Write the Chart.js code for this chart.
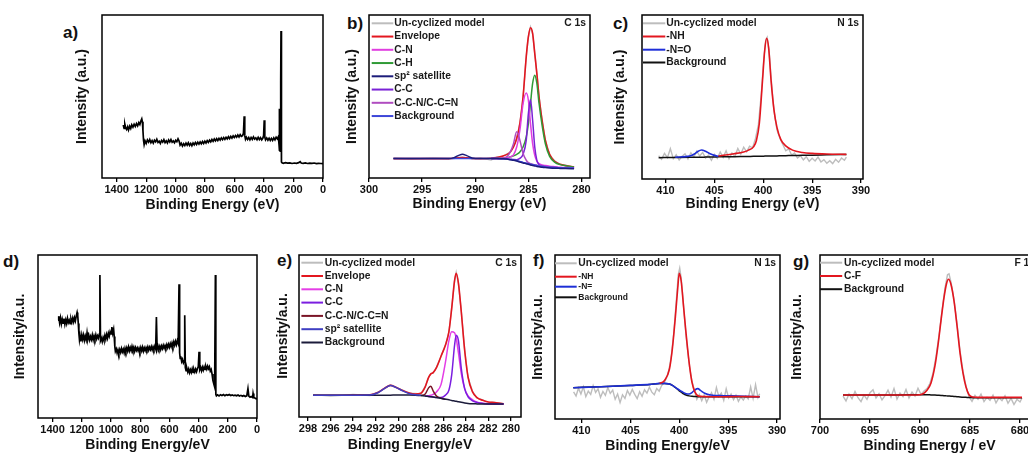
<!DOCTYPE html>
<html>
<head>
<meta charset="utf-8">
<title>XPS spectra</title>
<script src="https://cdn.jsdelivr.net/npm/chart.js@4.4.1/dist/chart.umd.min.js"></script>
<style>
  html, body { margin: 0; padding: 0; background: #fff; overflow: hidden; }
  body { width: 1028px; height: 456px; position: relative; font-family: "Liberation Sans", Arial, sans-serif; }
  canvas { position: absolute; }
  .tag { position: absolute; font-weight: bold; font-size: 17px; line-height: 1; color: #111; }
</style>
</head>
<body>
<div class="tag" style="left:63px;top:24px">a)</div>
<div class="tag" style="left:347px;top:15px">b)</div>
<div class="tag" style="left:613px;top:15px">c)</div>
<div class="tag" style="left:3px;top:253px">d)</div>
<div class="tag" style="left:277px;top:252px">e)</div>
<div class="tag" style="left:533px;top:252px">f)</div>
<div class="tag" style="left:793px;top:253px">g)</div>

<canvas id="chartA"></canvas>
<canvas id="chartB"></canvas>
<canvas id="chartC"></canvas>
<canvas id="chartD"></canvas>
<canvas id="chartE"></canvas>
<canvas id="chartF"></canvas>
<canvas id="chartG"></canvas>

<script>
// ---- tick labels ----
const surveyTicks = [1400, 1200, 1000, 800, 600, 400, 200, 0];
const c1sTicksB = [300, 295, 290, 285, 280];
const n1sTicks = [410, 405, 400, 395, 390];
const c1sTicksE = [298, 296, 294, 292, 290, 288, 286, 284, 282, 280];
const f1sTicks = [700, 695, 690, 685, 680];

// ---- a) survey, un-cyclized model ----
const aEnergy = [
  1356, 1350, 1345, 1340, 1333, 1326, 1320, 1312, 1305, 1298,
  1290, 1282, 1274, 1266, 1258, 1250, 1243, 1236, 1230, 1226,
  1222, 1218, 1214, 1208, 1200, 1192, 1184, 1176, 1168, 1160,
  1152, 1144, 1136, 1128, 1120, 1112, 1104, 1096, 1088, 1080,
  1072, 1064, 1056, 1048, 1040, 1032, 1024, 1016, 1008, 1000,
  992, 984, 976, 970, 962, 954, 946, 938, 930, 922,
  914, 906, 898, 890, 882, 874, 866, 858, 850, 842,
  834, 826, 818, 810, 802, 794, 786, 778, 770, 762,
  754, 746, 738, 730, 722, 714, 706, 698, 690, 682,
  674, 666, 658, 650, 642, 634, 626, 618, 610, 602,
  594, 586, 578, 570, 562, 554, 546, 540, 535, 531,
  526, 520, 512, 504, 496, 488, 480, 472, 464, 456,
  448, 440, 432, 424, 416, 408, 403, 399, 395, 390,
  382, 374, 366, 358, 350, 342, 334, 326, 318, 310,
  303, 298, 296.5, 295, 290, 287, 285, 283, 281, 278,
  270, 255, 240, 225, 210, 195, 180, 165, 155, 148,
  135, 120, 105, 90, 75, 60, 45, 30, 15, 0
];
const aCounts = [
  32.5, 30.5, 33.0, 31.0, 29.8, 31.5, 29.5, 31.8, 30.4, 32.6,
  31.2, 33.0, 31.6, 33.4, 32.0, 34.0, 32.8, 35.0, 36.3, 34.5,
  29.0, 23.0, 20.5, 22.8, 21.2, 23.4, 22.0, 23.6, 21.6, 22.9,
  21.4, 23.2, 22.2, 23.8, 21.8, 22.6, 21.2, 23.0, 22.0, 23.5,
  21.7, 22.8, 21.5, 23.3, 22.1, 23.6, 21.9, 22.7, 21.6, 23.1,
  22.3, 24.0, 22.5, 20.2, 21.3, 19.6, 21.0, 19.9, 21.4, 20.1,
  21.6, 20.0, 21.2, 19.8, 21.5, 20.4, 21.8, 20.6, 22.0, 20.8,
  22.1, 21.0, 22.4, 21.2, 22.6, 21.5, 22.9, 21.9, 23.2, 22.2,
  23.6, 22.5, 23.9, 22.8, 24.1, 23.0, 24.3, 23.2, 24.6, 23.5,
  24.8, 23.7, 25.0, 24.0, 25.3, 24.2, 25.5, 24.5, 25.8, 24.8,
  26.0, 25.0, 26.4, 25.2, 26.6, 25.6, 26.0, 27.5, 37.9, 26.0,
  23.8, 25.0, 23.6, 24.8, 23.4, 24.9, 23.7, 25.2, 23.9, 24.6,
  23.5, 24.9, 23.6, 24.7, 23.4, 24.5, 26.0, 35.4, 25.0, 23.4,
  24.6, 23.2, 24.4, 23.0, 24.3, 23.1, 24.6, 23.4, 25.0, 24.0,
  25.3, 20.0, 42.5, 17.0, 16.5, 60.0, 90.2, 40.0, 9.8, 9.3,
  9.0, 9.4, 9.1, 9.3, 8.9, 9.2, 9.0, 9.4, 10.0, 9.2,
  9.0, 9.3, 8.9, 9.1, 9.0, 9.2, 8.8, 9.0, 8.9, 8.8
];

// ---- b) C 1s, un-cyclized model ----
const bEnergy = [
  297.7, 296, 294, 292.5, 292, 291.6, 291.2, 290.8, 290.3, 289.5,
  288.5, 288, 287.5, 287, 286.7, 286.4, 286.1, 285.8, 285.5, 285.2,
  285.0, 284.8, 284.6, 284.4, 284.2, 284.0, 283.7, 283.4, 283.0, 282.5,
  282, 281.5, 280.7
];
const bRaw = [
  12.1, 11.7, 12.2, 11.8, 12.0, 12.6, 12.8, 12.3, 11.8, 12.2,
  11.0, 12.8, 13.0, 14.8, 15.8, 19.3, 24.0, 33.8, 49.5, 74.8,
  86.4, 92.6, 88.4, 76.8, 63.6, 50.4, 34.6, 23.4, 14.2, 10.3,
  8.2, 7.8, 6.6
];
const bEnvelope = [
  11.9, 11.9, 11.9, 11.9, 12.1, 12.4, 12.6, 12.4, 12.0, 11.9,
  12.1, 12.5, 13.3, 14.5, 16.0, 19.0, 24.2, 33.4, 49.8, 74.4,
  86.7, 92.2, 88.7, 76.4, 64.0, 50.0, 35.0, 23.0, 14.5, 10.0,
  8.4, 7.6, 6.8
];
const bCN = [
  null, null, null, null, null, null, null, null, null, null,
  11.9, 11.9, 12.1, 12.4, 13.0, 14.2, 19.0, 29.3, 45.7, 52.2,
  47.7, 33.4, 21.1, 13.9, 10.4, 8.8, 8.0, 7.6, 7.2, 6.9,
  6.6, 6.4, 6.2
];
const bCH = [
  null, null, null, null, null, null, null, null, null, null,
  11.9, 12.0, 12.2, 12.5, 13.0, 13.6, 14.5, 16.0, 19.0, 25.2,
  33.4, 45.7, 58.0, 63.1, 58.0, 46.0, 32.0, 21.0, 13.3, 9.6,
  8.2, 7.5, 6.7
];
const bSatellite = [
  11.9, 11.9, 11.9, 11.9, 12.5, 13.7, 14.6, 13.7, 12.3, 11.9,
  11.9, 11.9, 11.8, 11.6, 11.2, 10.9, 10.4, 9.8, 9.2, 8.8,
  8.4, 8.0, 7.7, 7.4, 7.1, 6.9, 6.6, 6.4, 6.2, 6.0,
  5.9, 5.8, 5.7
];
const bCC = [
  null, null, null, null, null, null, null, null, null, null,
  11.9, 11.9, 11.8, 11.7, 11.5, 11.3, 11.2, 12.0, 14.5, 23.2,
  39.5, 48.1, 35.4, 19.0, 10.8, 8.2, 7.4, 7.0, 6.7, 6.5,
  6.3, 6.2, 6.1
];
const bCCN = [
  null, null, null, null, null, null, null, null, null, null,
  11.9, 11.9, 12.3, 13.2, 16.0, 21.1, 28.3, 23.2, 15.0, 10.9,
  9.4, 8.8, 8.4, 8.1, 7.8, 7.5, 7.2, 6.9, 6.6, 6.4,
  6.3, 6.2, 6.1
];
const bBackground = [
  11.9, 11.9, 11.9, 11.9, 11.9, 11.9, 11.9, 11.9, 11.9, 11.9,
  11.9, 11.9, 11.8, 11.7, 11.4, 11.1, 10.7, 10.2, 9.6, 9.2,
  8.8, 8.5, 8.2, 8.0, 7.7, 7.4, 7.1, 6.8, 6.6, 6.4,
  6.3, 6.2, 6.1
];

// ---- c) N 1s, un-cyclized model ----
const cEnergy = [
  410.7, 409, 407.5, 407, 406.7, 406.3, 405.9, 405.5, 405, 404.6,
  403, 402, 401.5, 401, 400.7, 400.4, 400.1, 399.85, 399.65, 399.45,
  399.2, 398.9, 398.6, 398.2, 397.7, 397, 396, 395, 393.5, 391.5
];
const cNH = [
  null, null, null, null, null, null, null, null, null, 14.0,
  15.4, 16.5, 17.6, 19.6, 23.5, 34.0, 58.0, 78.5, 85.8, 80.0,
  60.0, 42.0, 31.5, 24.0, 20.2, 17.6, 16.2, 15.6, 15.2, 15.0
];
const cNO = [
  null, 13.3, 14.0, 15.4, 16.8, 17.7, 16.9, 15.6, 14.4, 13.8,
  null, null, null, null, null, null, null, null, null, null,
  null, null, null, null, null, null, null, null, null, null
];
const cBackground = [
  13.0, 13.1, 13.2, 13.25, 13.3, 13.3, 13.35, 13.4, 13.45, 13.5,
  13.6, 13.7, 13.75, 13.8, 13.85, 13.9, 13.9, 13.95, 14.0, 14.0,
  14.05, 14.1, 14.1, 14.2, 14.25, 14.3, 14.45, 14.55, 14.75, 15.0
];
const cRawEnergy = [
  410.7, 410.4, 410.1, 409.8, 409.5, 409.2, 408.9, 408.6, 408.3, 408.0,
  407.7, 407.4, 407.1, 406.8, 406.5, 406.2, 405.9, 405.6, 405.3, 405.0,
  404.7, 404.4, 404.1, 403.8, 403.5, 403.2, 402.9, 402.6, 402.3, 402.0,
  401.7, 401.4, 401.1, 400.8, 400.5, 400.2, 399.95, 399.75, 399.6, 399.4,
  399.15, 398.9, 398.6, 398.3, 398.0, 397.7, 397.4, 397.1, 396.8, 396.5,
  396.2, 395.9, 395.6, 395.3, 395.0, 394.7, 394.4, 394.1, 393.8, 393.5,
  393.2, 392.9, 392.6, 392.3, 392.0, 391.7, 391.5
];
const cRaw = [
  14.2, 12.0, 15.6, 13.0, 18.5, 12.4, 14.8, 11.6, 13.9, 15.4,
  12.2, 16.0, 13.5, 17.0, 14.0, 16.2, 12.8, 14.6, 11.4, 15.0,
  12.6, 16.4, 13.2, 17.2, 12.4, 15.8, 13.8, 18.6, 15.2, 19.4,
  16.6, 20.0, 19.0, 24.6, 33.0, 52.0, 73.0, 84.5, 86.4, 78.0,
  58.0, 41.5, 30.0, 24.8, 21.0, 17.2, 18.4, 14.6, 15.8, 12.8,
  14.2, 11.6, 13.6, 10.8, 12.6, 11.0, 13.4, 10.4, 11.8, 9.6,
  11.2, 9.4, 12.0, 10.2, 12.8, 11.4, 13.4
];

// ---- d) survey, second sample ----
const dEnergy = [
  1363, 1358, 1352, 1346, 1340, 1334, 1328, 1322, 1316, 1310,
  1304, 1298, 1292, 1286, 1280, 1274, 1268, 1262, 1256, 1250,
  1244, 1238, 1232, 1228, 1224, 1220, 1216, 1212, 1206, 1200,
  1194, 1188, 1182, 1176, 1170, 1164, 1158, 1152, 1146, 1140,
  1134, 1128, 1122, 1116, 1110, 1104, 1098, 1092, 1086, 1080,
  1076, 1072, 1066, 1060, 1054, 1048, 1042, 1036, 1030, 1024,
  1018, 1012, 1006, 1000, 994, 988, 982, 978, 974, 970,
  964, 958, 952, 946, 940, 934, 928, 922, 916, 910,
  904, 898, 892, 886, 880, 874, 868, 862, 856, 850,
  844, 838, 832, 826, 820, 814, 808, 802, 796, 790,
  784, 778, 772, 766, 760, 754, 748, 742, 736, 730,
  724, 718, 712, 706, 700, 694, 689, 684, 678, 672,
  666, 660, 654, 648, 642, 636, 630, 624, 618, 612,
  606, 600, 594, 588, 582, 576, 570, 564, 558, 552,
  546, 540, 534, 530, 526, 522, 516, 510, 504, 498,
  495, 491, 486, 480, 474, 468, 462, 456, 450, 444,
  438, 432, 426, 420, 414, 408, 402, 397, 392, 386,
  380, 374, 368, 362, 356, 350, 344, 338, 332, 326,
  320, 314, 308, 302, 296, 290, 285, 282, 278, 270,
  260, 250, 240, 230, 220, 210, 200, 190, 180, 170,
  160, 150, 140, 130, 120, 110, 100, 90, 80, 70,
  62, 56, 48, 40, 30, 27, 22, 12, 6, 0
];
const dCounts = [
  60.0, 62.5, 58.5, 61.5, 57.8, 60.6, 58.2, 61.0, 57.5, 60.2,
  58.0, 61.2, 58.6, 60.0, 57.9, 60.8, 58.8, 61.3, 59.0, 61.6,
  59.6, 62.5, 64.8, 63.0, 58.0, 52.0, 48.0, 50.5, 47.0, 51.0,
  48.2, 50.8, 47.6, 50.2, 48.0, 52.4, 48.4, 50.6, 47.9, 50.0,
  48.2, 50.9, 48.0, 50.3, 48.4, 51.0, 48.6, 50.4, 49.0, 51.5,
  87.7, 47.5, 49.0, 46.8, 49.4, 47.6, 50.6, 48.3, 51.2, 49.0,
  52.0, 50.2, 53.0, 51.6, 55.8, 52.0, 54.4, 50.0, 44.0, 41.0,
  42.4, 39.8, 41.8, 39.6, 42.0, 40.2, 42.6, 40.6, 42.2, 40.0,
  42.8, 40.8, 43.0, 41.0, 43.6, 41.2, 43.2, 41.4, 44.0, 41.8,
  43.4, 41.0, 43.2, 41.5, 43.0, 41.2, 42.8, 40.8, 43.2, 41.2,
  43.4, 41.0, 43.0, 41.4, 43.2, 41.8, 43.6, 41.6, 43.4, 42.0,
  43.8, 41.8, 43.6, 42.0, 44.0, 42.4, 62.0, 42.2, 44.2, 42.4,
  44.0, 42.0, 44.2, 42.6, 44.6, 42.8, 44.4, 43.0, 45.0, 43.2,
  45.2, 43.4, 45.6, 43.8, 46.0, 44.0, 46.6, 44.6, 47.0, 45.0,
  47.4, 45.8, 82.0, 40.0, 36.5, 37.8, 34.6, 36.0, 33.8, 35.0,
  63.0, 31.0, 29.0, 30.4, 28.2, 30.0, 27.8, 29.6, 28.0, 30.2,
  28.0, 29.8, 28.2, 30.0, 28.4, 30.2, 31.6, 40.6, 29.6, 31.0,
  29.0, 31.2, 29.4, 31.4, 29.8, 31.6, 30.0, 31.8, 30.2, 31.4,
  28.8, 29.8, 27.0, 23.0, 21.0, 19.0, 87.7, 14.5, 13.6, 14.2,
  13.6, 14.3, 13.8, 14.4, 13.7, 14.3, 13.9, 14.4, 13.8, 14.2,
  13.7, 14.0, 13.6, 14.1, 13.5, 13.9, 13.3, 13.8, 13.2, 13.6,
  18.0, 13.4, 12.8, 13.2, 12.6, 15.0, 12.6, 12.2, 11.8, 11.9
];

// ---- e) C 1s, second sample ----
const eEnergy = [
  297.55, 296, 294, 292.5, 291.8, 291.2, 290.7, 290.2, 289.6, 289,
  288.5, 288, 287.6, 287.3, 287.1, 286.9, 286.6, 286.2, 285.8, 285.5,
  285.25, 285.0, 284.85, 284.65, 284.4, 284.1, 283.8, 283.4, 283, 282.5,
  282, 281.5, 280.64
];
const eRaw = [
  13.8, 12.9, 13.9, 13.3, 15.4, 17.5, 19.8, 18.1, 16.6, 14.5,
  14.6, 14.2, 18.9, 24.2, 26.9, 27.1, 30.8, 37.2, 44.8, 52.2,
  67.4, 83.6, 89.2, 82.2, 65.4, 41.6, 24.4, 15.8, 11.7, 10.6,
  9.0, 9.1, 8.0
];
const eEnvelope = [
  13.4, 13.4, 13.5, 13.7, 15.1, 17.8, 19.5, 18.4, 16.3, 14.8,
  14.2, 14.6, 18.6, 24.5, 26.6, 27.4, 30.5, 37.5, 44.5, 52.5,
  67.0, 84.0, 88.7, 82.5, 65.0, 41.2, 24.7, 15.5, 12.0, 10.3,
  9.3, 8.9, 8.2
];
const eCN = [
  null, null, null, null, null, null, null, null, null, null,
  null, null, 13.0, 13.1, 13.4, 14.0, 15.5, 20.0, 34.0, 47.0,
  52.6, 52.0, 48.5, 39.5, 27.0, 17.5, 13.0, 10.6, 9.2, 8.5,
  8.2, 8.1, 8.0
];
const eCC = [
  null, null, null, null, null, null, null, null, null, null,
  null, null, 13.0, 12.7, 12.5, 12.3, 12.1, 12.0, 13.5, 16.5,
  26.0, 44.0, 50.5, 47.0, 30.0, 17.5, 12.5, 10.0, 9.0, 8.4,
  8.1, 8.0, 8.0
];
const eCCN = [
  null, null, null, null, null, null, null, null, null, null,
  null, 13.3, 14.2, 18.0, 19.0, 16.2, 13.0, 11.6, 11.0, null,
  null, null, null, null, null, null, null, null, null, null,
  null, null, null
];
const eSatellite = [
  13.4, 13.4, 13.5, 13.6, 15.0, 17.7, 19.4, 18.3, 16.1, 14.4,
  13.8, 13.4, null, null, null, null, null, null, null, null,
  null, null, null, null, null, null, null, null, null, null,
  null, null, null
];
const eBackground = [
  13.4, 13.4, 13.4, 13.4, 13.4, 13.5, 13.5, 13.6, 13.6, 13.6,
  13.5, 13.3, 13.0, 12.7, 12.5, 12.3, 12.0, 11.5, 11.0, 10.6,
  10.2, 9.9, 9.7, 9.4, 9.1, 8.7, 8.4, 8.2, 8.1, 8.0,
  8.0, 8.0, 8.0
];

// ---- f) N 1s, second sample ----
const fEnergy = [
  410.83, 408, 405, 403, 402, 401.5, 401.0, 400.7, 400.4, 400.15,
  400.0, 399.8, 399.55, 399.3, 399.0, 398.7, 398.4, 398.1, 397.8, 397.4,
  396.8, 395.5, 394, 391.78
];
const fNH = [
  null, null, null, null, 21.7, 23.5, 30.5, 43.0, 62.0, 80.0,
  88.8, 84.0, 68.0, 52.0, 35.0, 22.5, 16.5, 14.2, 13.8, 13.7,
  13.6, 13.6, 13.7, 13.6
];
const fN = [
  19.1, 19.7, 20.5, 21.1, 21.7, 21.7, 21.3, 20.5, 19.3, 18.3,
  17.7, 16.9, 16.1, 15.4, 15.2, 16.1, 17.7, 18.5, 17.3, 15.7,
  14.6, 14.2, 14.0, 13.6
];
const fBackground = [
  19.1, 19.7, 20.5, 21.1, 21.7, 21.7, 21.3, 20.5, 19.2, 18.0,
  17.2, 16.4, 15.3, 14.6, 14.1, 13.8, 13.7, 13.6, 13.6, 13.6,
  13.6, 13.6, 13.6, 13.6
];
const fRawEnergy = [
  410.8, 410.55, 410.3, 410.05, 409.8, 409.55, 409.3, 409.05, 408.8, 408.55,
  408.3, 408.05, 407.8, 407.55, 407.3, 407.05, 406.8, 406.55, 406.3, 406.05,
  405.8, 405.55, 405.3, 405.05, 404.8, 404.55, 404.3, 404.05, 403.8, 403.55,
  403.3, 403.05, 402.8, 402.55, 402.3, 402.05, 401.8, 401.55, 401.3, 401.05,
  400.8, 400.55, 400.3, 400.1, 399.95, 399.8, 399.6, 399.4, 399.2, 398.95,
  398.7, 398.45, 398.2, 397.95, 397.7, 397.45, 397.2, 396.95, 396.7, 396.45,
  396.2, 395.95, 395.7, 395.45, 395.2, 394.95, 394.7, 394.45, 394.2, 393.95,
  393.7, 393.45, 393.2, 392.95, 392.7, 392.45, 392.2, 391.95, 391.78
];
const fRaw = [
  16.5, 14.0, 18.8, 15.2, 19.6, 13.6, 17.0, 15.0, 20.4, 16.2,
  18.4, 13.2, 16.8, 14.4, 19.2, 15.6, 17.6, 12.0, 15.2, 10.0,
  14.8, 12.6, 17.4, 14.6, 18.0, 15.0, 12.4, 16.6, 13.8, 17.8,
  15.8, 19.4, 16.4, 14.8, 18.6, 17.0, 20.4, 22.0, 25.0, 30.0,
  39.0, 53.0, 72.0, 88.0, 92.0, 86.0, 72.0, 57.0, 45.0, 32.0,
  23.0, 17.5, 12.0, 15.0, 11.2, 14.6, 10.2, 13.4, 16.0, 12.0,
  19.2, 13.6, 15.8, 11.4, 18.4, 12.8, 15.2, 11.8, 14.6, 10.8,
  13.4, 11.6, 14.0, 12.2, 19.6, 12.6, 21.0, 13.0, 15.4
];

// ---- g) F 1s, second sample ----
const gEnergy = [
  697.7, 695, 692, 690, 689.3, 688.9, 688.5, 688.2, 687.9, 687.6,
  687.35, 687.15, 686.9, 686.6, 686.3, 686.0, 685.7, 685.4, 685.1, 684.7,
  684, 682, 680, 679.8
];
const gCF = [
  14.6, 14.6, 14.6, 14.8, 17.5, 22.0, 32.5, 45.0, 60.0, 74.0,
  82.5, 85.2, 82.0, 72.0, 57.0, 40.5, 28.0, 19.5, 14.8, 13.4,
  13.2, 13.2, 13.2, 13.2
];
const gBackground = [
  14.6, 14.6, 14.7, 14.8, 14.8, 14.7, 14.6, 14.5, 14.4, 14.2,
  14.1, 14.0, 13.9, 13.7, 13.6, 13.4, 13.3, 13.2, 13.1, 13.0,
  13.0, 13.0, 13.0, 13.0
];
const gRawEnergy = [
  697.7, 697.4, 697.1, 696.8, 696.5, 696.2, 695.9, 695.6, 695.3, 695.0,
  694.7, 694.4, 694.1, 693.8, 693.5, 693.2, 692.9, 692.6, 692.3, 692.0,
  691.7, 691.4, 691.1, 690.8, 690.5, 690.2, 689.9, 689.6, 689.3, 689.0,
  688.7, 688.4, 688.1, 687.8, 687.5, 687.25, 687.1, 686.9, 686.6, 686.3,
  686.0, 685.7, 685.4, 685.1, 684.8, 684.5, 684.2, 683.9, 683.6, 683.3,
  683.0, 682.7, 682.4, 682.1, 681.8, 681.5, 681.2, 680.9, 680.6, 680.3,
  680.0, 679.8
];
const gRaw = [
  14.0, 11.0, 15.2, 12.4, 16.8, 13.0, 10.6, 14.6, 12.0, 16.0,
  17.8, 12.8, 15.4, 11.6, 14.2, 17.6, 13.4, 18.6, 12.2, 15.8,
  13.6, 18.0, 12.8, 16.4, 14.0, 18.8, 15.0, 17.0, 18.6, 21.8,
  28.0, 38.0, 51.0, 66.0, 80.0, 88.0, 88.5, 83.5, 73.0, 58.0,
  41.5, 29.0, 20.0, 13.6, 10.8, 14.4, 12.0, 15.2, 10.6, 13.2,
  11.4, 14.6, 9.8, 13.0, 11.2, 14.2, 9.6, 12.6, 8.8, 12.0,
  10.4, 12.8
];

const FONT = '"Liberation Sans", Arial, sans-serif';
Chart.defaults.font.family = FONT;
Chart.defaults.color = '#111';

// frame round the plot area, plus the small legend and the core-level tag inside it
const panelFrame = {
  id: 'panelFrame',
  afterDatasetsDraw(chart, args, opts) {
    const { ctx, chartArea: area } = chart;
    ctx.save();
    ctx.strokeStyle = '#000';
    ctx.lineWidth = 1.5;
    ctx.strokeRect(area.left, area.top, area.right - area.left, area.bottom - area.top);

    const rows = opts.rows || [];
    chart.data.datasets.forEach((ds, i) => {
      if (rows[i] === undefined) return;
      const y = area.top + rows[i];
      ctx.strokeStyle = ds.borderColor;
      ctx.lineWidth = 2;
      ctx.beginPath();
      ctx.moveTo(area.left + opts.lineFrom, y);
      ctx.lineTo(area.left + opts.lineTo, y);
      ctx.stroke();
      const size = opts.sizes ? opts.sizes[i] : 10.3;
      ctx.font = 'bold ' + size + 'px ' + FONT;
      ctx.fillStyle = '#1a1a1a';
      ctx.textAlign = 'left';
      ctx.textBaseline = 'middle';
      ctx.fillText(ds.label, area.left + opts.textX, y);
    });

    if (opts.corner) {
      ctx.font = 'bold 10.3px ' + FONT;
      ctx.fillStyle = '#1a1a1a';
      ctx.textAlign = 'right';
      ctx.textBaseline = 'middle';
      ctx.fillText(opts.corner, area.right - 4, area.top + 8);
    }
    ctx.restore();
  }
};
Chart.register(panelFrame);

function series(label, xs, ys, color, order, width, smooth) {
  return {
    label: label,
    data: xs.map((x, i) => ({ x: x, y: ys[i] })),
    borderColor: color,
    borderWidth: width || 1.5,
    pointRadius: 0,
    fill: false,
    order: order,
    cubicInterpolationMode: smooth ? 'monotone' : 'default',
    tension: 0
  };
}

// box = plot-area edges in page pixels, titleX / titleY = centres of the axis titles
function makePanel(id, box, axis, datasets, frame) {
  const canvas = document.getElementById(id);
  const padTop = 6, padRight = 14;
  const left = Math.round(box.titleX - 8.4);
  const top = box.top - padTop;
  const bottom = Math.round(box.titleY + 8.4);
  canvas.width = box.right + padRight - left;
  canvas.height = bottom - top;
  canvas.style.left = left + 'px';
  canvas.style.top = top + 'px';

  new Chart(canvas, {
    type: 'line',
    data: { datasets: datasets },
    options: {
      responsive: false,
      animation: false,
      devicePixelRatio: 1,
      layout: { autoPadding: false, padding: { top: padTop, right: padRight, bottom: 0, left: 0 } },
      plugins: { legend: { display: false }, tooltip: { enabled: false }, panelFrame: frame },
      scales: {
        x: {
          type: 'linear',
          reverse: true,
          min: axis.min,
          max: axis.max,
          afterBuildTicks: s => { s.ticks = axis.ticks.map(v => ({ value: v })); },
          afterFit: s => { s.height = bottom - box.bottom; },
          ticks: {
            callback: v => String(v),
            font: { size: 11, weight: 'bold' },
            color: '#111',
            padding: 1,
            maxRotation: 0,
            autoSkip: false
          },
          grid: { drawOnChartArea: false, drawTicks: true, tickLength: 4, color: '#000', lineWidth: 1.3 },
          border: { display: false },
          title: { display: true, text: axis.xTitle, font: { size: 14, weight: 'bold' }, color: '#111', padding: 0 }
        },
        y: {
          min: 0,
          max: 100,
          afterFit: s => { s.width = box.left - left; },
          ticks: { display: false },
          grid: { display: false },
          border: { display: false },
          title: { display: true, text: axis.yTitle, font: { size: 14, weight: 'bold' }, color: '#111', padding: 0 }
        }
      }
    }
  });
}

const GRAY = '#bdbdbd';
const RED = '#e3161f';

makePanel('chartA',
  { left: 102, right: 323, top: 15, bottom: 178, titleX: 82, titleY: 206 },
  { min: 0, max: 1500, ticks: surveyTicks, xTitle: 'Binding Energy (eV)', yTitle: 'Intensity (a.u.)' },
  [series('Survey', aEnergy, aCounts, '#000', 0, 1.7)],
  {});

makePanel('chartB',
  { left: 369, right: 590, top: 15, bottom: 178, titleX: 352, titleY: 205 },
  { min: 279.2, max: 300, ticks: c1sTicksB, xTitle: 'Binding Energy (eV)', yTitle: 'Intensity (a.u.)' },
  [
    series('Un-cyclized model', bEnergy, bRaw, GRAY, 10, 1.4),
    series('Envelope', bEnergy, bEnvelope, RED, 6, 1.6, true),
    series('C-N', bEnergy, bCN, '#e03ee0', 4, 1.5, true),
    series('C-H', bEnergy, bCH, '#2f9a35', 5, 1.5, true),
    series('sp² satellite', bEnergy, bSatellite, '#1c1c7a', 0, 1.5, true),
    series('C-C', bEnergy, bCC, '#7a22d6', 3, 1.5, true),
    series('C-C-N/C-C=N', bEnergy, bCCN, '#b04cc0', 2, 1.5, true),
    series('Background', bEnergy, bBackground, '#3d46d8', 1, 1.5, true)
  ],
  { rows: [8.3, 21.55, 34.8, 48.05, 61.3, 74.55, 87.8, 101.05], lineFrom: 2.7, lineTo: 24.3, textX: 25.3, corner: 'C 1s' });

makePanel('chartC',
  { left: 642, right: 863, top: 15, bottom: 179, titleX: 620, titleY: 205 },
  { min: 389.8, max: 412.4, ticks: n1sTicks, xTitle: 'Binding Energy (eV)', yTitle: 'Intensity (a.u.)' },
  [
    series('Un-cyclized model', cRawEnergy, cRaw, GRAY, 10, 1.4),
    series('-NH', cEnergy, cNH, RED, 1, 1.6, true),
    series('-N=O', cEnergy, cNO, '#1e2ed8', 0, 1.6, true),
    series('Background', cEnergy, cBackground, '#111', 2, 1.5, true)
  ],
  { rows: [8.3, 21.5, 34.7, 47.5], lineFrom: 1, lineTo: 23.3, textX: 24.3, corner: 'N 1s' });

makePanel('chartD',
  { left: 38, right: 257, top: 255, bottom: 418, titleX: 20, titleY: 445.5 },
  { min: 0, max: 1500, ticks: surveyTicks, xTitle: 'Binding Energy/eV', yTitle: 'Intensity/a.u.' },
  [series('Survey', dEnergy, dCounts, '#000', 0, 1.7)],
  {});

makePanel('chartE',
  { left: 299, right: 521, top: 255, bottom: 417, titleX: 283, titleY: 446 },
  { min: 279.1, max: 298.8, ticks: c1sTicksE, xTitle: 'Binding Energy/eV', yTitle: 'Intensity/a.u.' },
  [
    series('Un-cyclized model', eEnergy, eRaw, GRAY, 10, 1.4),
    series('Envelope', eEnergy, eEnvelope, RED, 6, 1.6, true),
    series('C-N', eEnergy, eCN, '#e43ee6', 4, 1.5, true),
    series('C-C', eEnergy, eCC, '#7b1ee0', 3, 1.5, true),
    series('C-C-N/C-C=N', eEnergy, eCCN, '#7a1426', 2, 1.5, true),
    series('sp² satellite', eEnergy, eSatellite, '#3f3fc2', 0, 1.5, true),
    series('Background', eEnergy, eBackground, '#1b1b3a', 1, 1.5, true)
  ],
  { rows: [7.7, 21, 34.3, 47.6, 60.9, 74.2, 87.5], lineFrom: 2.4, lineTo: 24, textX: 25.7, corner: 'C 1s' });

makePanel('chartF',
  { left: 555, right: 780, top: 255, bottom: 419, titleX: 538, titleY: 447 },
  { min: 389.7, max: 412.7, ticks: n1sTicks, xTitle: 'Binding Energy/eV', yTitle: 'Intensity/a.u.' },
  [
    series('Un-cyclized model', fRawEnergy, fRaw, GRAY, 10, 1.4),
    series('-NH', fEnergy, fNH, RED, 0, 1.6, true),
    series('-N=', fEnergy, fN, '#1d2fd6', 1, 1.6, true),
    series('Background', fEnergy, fBackground, '#111', 2, 1.5, true)
  ],
  { rows: [8.3, 21.7, 31.7, 42.3], sizes: [10.3, 8.5, 8.5, 8.5], lineFrom: 0, lineTo: 21.7, textX: 23.3, corner: 'N 1s' });

makePanel('chartG',
  { left: 820, right: 1039, top: 255, bottom: 419, titleX: 797, titleY: 446.5 },
  { min: 678.1, max: 700, ticks: f1sTicks, xTitle: 'Binding Energy / eV', yTitle: 'Intensity/a.u.' },
  [
    series('Un-cyclized model', gRawEnergy, gRaw, GRAY, 10, 1.4),
    series('C-F', gEnergy, gCF, RED, 1, 1.6, true),
    series('Background', gEnergy, gBackground, '#111', 2, 1.5, true)
  ],
  { rows: [7.7, 21, 34.2], lineFrom: 0, lineTo: 22.2, textX: 24, corner: 'F 1s' });
</script>
</body>
</html>
